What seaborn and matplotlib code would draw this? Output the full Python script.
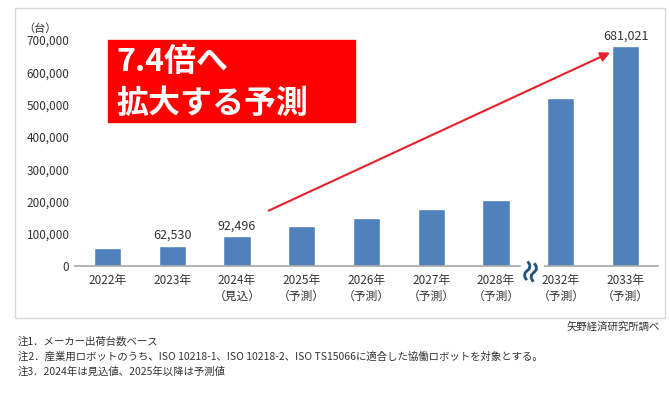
import matplotlib
matplotlib.use("Agg")
import matplotlib.pyplot as plt
import matplotlib.patches as mpatches
import seaborn as sns
import pandas as pd

# ----------------------------
# Data
# ----------------------------
years = ["2022年", "2023年", "2024年\n（見込）", "2025年\n（予測）", "2026年\n（予測）",
         "2027年\n（予測）", "2028年\n（予測）", "2032年\n（予測）", "2033年\n（予測）"]
units = [55000, 62530, 92496, 125000, 150000, 178000, 205000, 520000, 681021]
labelled = {1: "62,530", 2: "92,496", 8: "681,021"}
notes = ["注1．メーカー出荷台数ベース",
         "注2．産業用ロボットのうち、ISO 10218-1、ISO 10218-2、ISO TS15066に適合した協働ロボットを対象とする。",
         "注3．2024年は見込値、2025年以降は予測値"]

sns.set_theme(style="white")
plt.rcParams["font.family"] = ["Noto Sans CJK JP", "DejaVu Sans"]

df = pd.DataFrame({"year": years, "units": units})
fig = plt.figure(figsize=(6.7, 4.05), dpi=100)
ax = fig.add_axes([0.112, 0.343, 0.87, 0.558])
sns.barplot(data=df, x="year", y="units", color="#4f81bd", saturation=1, width=0.42, ax=ax)

ax.set_ylim(0, 700000)
ax.set_yticks(range(0, 700001, 100000))
ax.set_yticklabels([f"{v:,}" for v in range(0, 700001, 100000)], fontsize=8.5, color="#333333")
ax.tick_params(axis="x", labelsize=8.5, colors="#333333", length=0, pad=6)
ax.tick_params(axis="y", length=0, pad=4)
ax.set_xlabel("")
ax.set_ylabel("")
for s in ["top", "right", "left"]:
    ax.spines[s].set_visible(False)
ax.spines["bottom"].set_color("#aaaaaa")
ax.text(-0.06, 1.035, "（台）", transform=ax.transAxes, fontsize=8, color="#333333", ha="center")

for i, txt in labelled.items():
    ax.text(i, units[i] + 12000, txt, ha="center", va="bottom", fontsize=9, color="#333333")

# break mark between 2028 and 2032
ax.text(6.55, -8000, "≈", rotation=75, ha="center", va="center", fontsize=20,
        color="#1f4e79", fontweight="bold", clip_on=False, zorder=4,
        bbox=dict(facecolor="white", edgecolor="none", pad=-2))

# growth arrow
ax.annotate("", xy=(7.8, 665000), xytext=(2.45, 168000),
            arrowprops=dict(arrowstyle="-|>", color="#e8202a", lw=1.5, mutation_scale=14))

# red callout box
fig.patches.append(mpatches.Rectangle((108 / 670, 1 - 122 / 405), 247 / 670, 82 / 405,
                                      transform=fig.transFigure, color="#ff0000", zorder=5))
fig.text(116 / 670, 1 - 62 / 405, "7.4倍へ", fontsize=23, color="white", fontweight="bold",
         va="center", zorder=6)
fig.text(116 / 670, 1 - 104 / 405, "拡大する予測", fontsize=23, color="white", fontweight="bold",
         va="center", zorder=6)

# chart frame
fig.patches.append(mpatches.Rectangle((15 / 670, 1 - 318 / 405), 650 / 670, 310 / 405,
                                      transform=fig.transFigure, fill=False,
                                      edgecolor="#d9d9d9", lw=1))

fig.text(660 / 670, 1 - 327 / 405, "矢野経済研究所調べ", fontsize=7.5, ha="right", va="center",
         color="#333333")
for k, n in enumerate(notes):
    fig.text(18 / 670, 1 - (342 + 15 * k) / 405, n, fontsize=7.5, va="center", color="#333333")

fig.savefig("out.png", dpi=100)
